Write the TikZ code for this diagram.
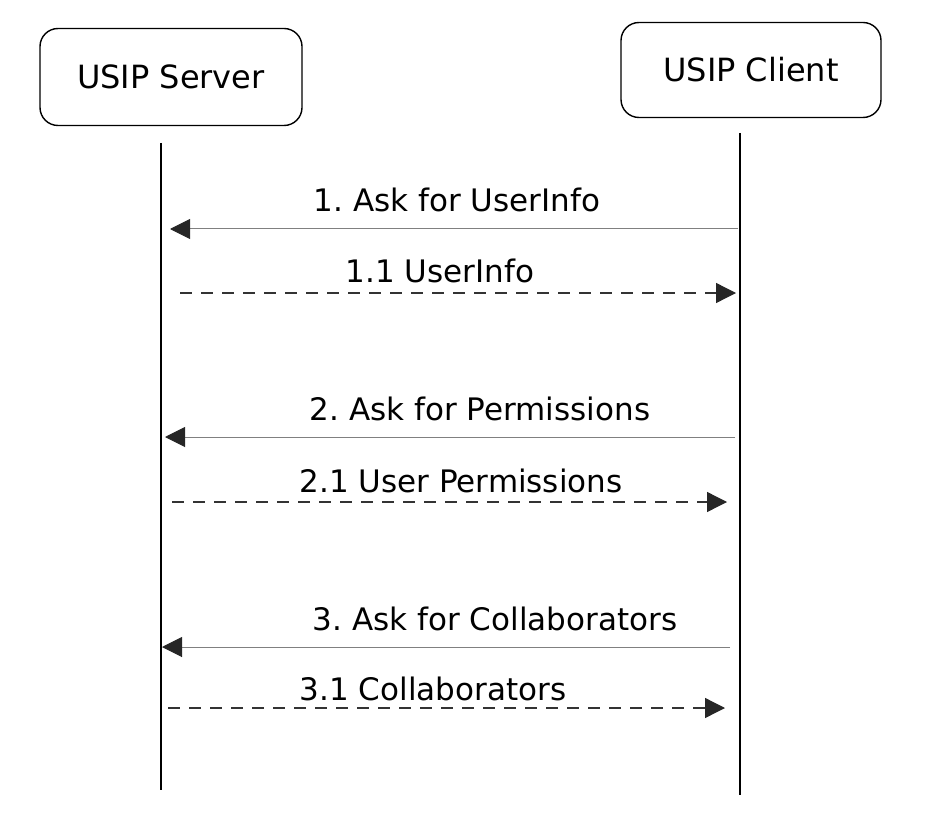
\documentclass[tikz,border=0pt]{standalone}
\usepackage{fontspec}
\setmainfont{DejaVu Sans}
\usepackage{tikz}
\usetikzlibrary{arrows.meta}
\frenchspacing

\begin{document}
\begin{tikzpicture}[x=1pt,y=-1pt,
    actor/.style={draw,line width=1.4pt,rounded corners=18pt,minimum width=262pt,minimum height=97pt,font=\fontsize{32}{38}\selectfont},
    call/.style={draw=gray,line width=1pt,-{Triangle[length=20pt,width=20pt,fill=black!85,color=black!85]}},
    reply/.style={draw=black!80,line width=1.3pt,dash pattern=on 12pt off 9pt,-{Triangle[length=20pt,width=20pt,fill=black!85,color=black!85]}},
    lbl/.style={font=\fontsize{31}{36}\selectfont}]
\useasboundingbox (0,0) rectangle (944,826);

% actors
\node[actor] (srv) at (171,77) {USIP Server};
\node[actor,minimum width=260pt,minimum height=95pt] (cli) at (751,70) {USIP Client};

% lifelines
\coordinate (srvTop) at (161,143);
\coordinate (srvBot) at (161,790);
\coordinate (cliTop) at (740,133);
\coordinate (cliBot) at (740,795);
\draw[line width=1.4pt] (srvTop) -- (srvBot);
\draw[line width=1.4pt] (cliTop) -- (cliBot);

% 1
\coordinate (c1) at (738,229);
\coordinate (s1) at (170,229);
\draw[call] (c1) -- (s1);
\node[lbl] (l1) at (457,200) {1. Ask for UserInfo};

\coordinate (s11) at (180,293);
\coordinate (c11) at (736,293);
\draw[reply] (s11) -- (c11);
\node[lbl] (l11) at (440,271) {1.1 UserInfo};

% 2
\coordinate (c2) at (735,437);
\coordinate (s2) at (165,437);
\draw[call] (c2) -- (s2);
\node[lbl] (l2) at (480,409) {2. Ask for Permissions};

\coordinate (s21) at (172,502);
\coordinate (c21) at (727,502);
\draw[reply] (s21) -- (c21);
\node[lbl] (l21) at (461,481) {2.1 User Permissions};

% 3
\coordinate (c3) at (730,647);
\coordinate (s3) at (162,647);
\draw[call] (c3) -- (s3);
\node[lbl] (l3) at (495,619) {3. Ask for Collaborators};

\coordinate (s31) at (168,708);
\coordinate (c31) at (725,708);
\draw[reply] (s31) -- (c31);
\node[lbl] (l31) at (433,689) {3.1 Collaborators};

\end{tikzpicture}
\end{document}
